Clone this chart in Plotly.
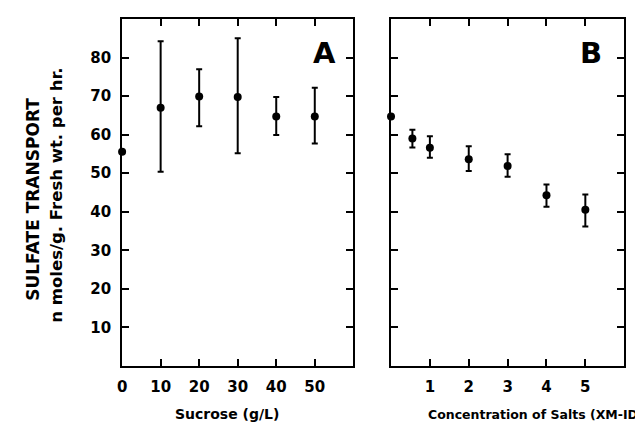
import plotly.graph_objects as go

# Panel A: sucrose
sucrose = [0, 10, 20, 30, 40, 50]
transport_a = [55.6, 67.0, 69.9, 69.8, 64.7, 64.7]
err_a_plus = [0, 17.2, 7.1, 15.2, 5.1, 7.5]
err_a_minus = [0, 16.6, 7.7, 14.6, 4.8, 7.0]

# Panel B: salts
salts = [0, 0.55, 1, 2, 3, 4, 5]
transport_b = [64.7, 59.0, 56.6, 53.6, 51.9, 44.3, 40.5]
err_b_plus = [0, 2.3, 3.0, 3.4, 3.0, 2.8, 4.0]
err_b_minus = [0, 2.3, 2.6, 3.0, 2.8, 3.0, 4.3]

a_ticks = [0, 10, 20, 30, 40, 50]
b_ticks = [1, 2, 3, 4, 5]
y_ticks = [10, 20, 30, 40, 50, 60, 70, 80]

FONT = "DejaVu Sans"

fig = go.Figure()
fig.add_trace(go.Scatter(
    x=sucrose, y=transport_a, mode="markers",
    marker=dict(color="black", size=8),
    error_y=dict(type="data", symmetric=False, array=err_a_plus, arrayminus=err_a_minus,
                 color="black", thickness=2, width=3),
    xaxis="x", yaxis="y", cliponaxis=False, showlegend=False))
fig.add_trace(go.Scatter(
    x=salts, y=transport_b, mode="markers",
    marker=dict(color="black", size=8),
    error_y=dict(type="data", symmetric=False, array=err_b_plus, arrayminus=err_b_minus,
                 color="black", thickness=2, width=3),
    xaxis="x2", yaxis="y2", cliponaxis=False, showlegend=False))

axis_common = dict(showline=True, linecolor="black", linewidth=2, mirror="ticks",
                   ticks="inside", ticklen=7, tickwidth=2, tickcolor="black",
                   showgrid=False, zeroline=False,
                   tickfont=dict(family=FONT, size=15, color="black", weight="bold"))

fig.update_layout(
    width=643, height=435,
    margin=dict(l=0, r=0, t=0, b=0),
    paper_bgcolor="white", plot_bgcolor="white",
    xaxis=dict(domain=[0.171, 0.5334], range=[0, 60], tickvals=a_ticks,
               anchor="y", ticklabelstandoff=6, **axis_common),
    yaxis=dict(domain=[0.177, 0.9747], range=[0, 90], tickvals=y_ticks,
               anchor="x", ticklabelstandoff=6, **axis_common),
    xaxis2=dict(domain=[0.5925, 0.958], range=[0, 6], tickvals=b_ticks,
                anchor="y2", ticklabelstandoff=6, **axis_common),
    yaxis2=dict(domain=[0.177, 0.9747], range=[0, 90], tickvals=y_ticks,
                anchor="x2", showticklabels=False, **axis_common),
)

ann_font = dict(family=FONT, color="black", weight="bold")


def add_text(text, px, py, size, angle=0):
    fig.add_annotation(text=text, x=px / 643, y=1 - py / 435, xref="paper", yref="paper",
                       xanchor="center", yanchor="middle", showarrow=False,
                       textangle=angle, font=dict(size=size, **ann_font))


add_text("A", 314, 45, 29)
add_text("B", 583, 45, 29)
add_text("Sucrose (g/L)", 216, 406, 14)
add_text("Concentration of Salts (XM-ID)", 527, 406, 12.5)
add_text("SULFATE TRANSPORT", 20, 191, 17, -90)
add_text("n moles/g. Fresh wt. per hr.", 43, 187, 16.5, -90)

fig.write_html("out.html")
